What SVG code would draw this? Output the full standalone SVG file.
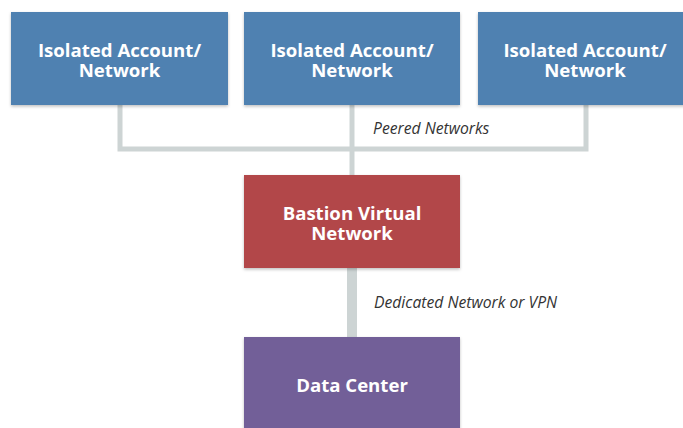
<svg xmlns="http://www.w3.org/2000/svg" width="683" height="428" viewBox="0 0 683 428">
<defs>
<filter id="sh" x="-5%" y="-5%" width="110%" height="115%">
<feDropShadow dx="0" dy="1.5" stdDeviation="1.5" flood-color="#000" flood-opacity="0.25"/>
</filter>
</defs>
<style>
.box{filter:url(#sh)}
.blue{fill:#4f81b1}
.red{fill:#b24748}
.purple{fill:#725e98}
.lbl{font-family:"Open Sans","Liberation Sans",sans-serif;font-weight:bold;font-size:18.6px;fill:#ffffff;text-anchor:middle}
.note{font-family:"Open Sans","Liberation Sans",sans-serif;font-style:italic;font-size:15.7px;fill:#333333}
.ln{stroke:#cdd4d4;fill:none}
</style>
<rect width="683" height="428" fill="#ffffff"/>
<g id="connectors">
<polyline class="ln" stroke-width="5" points="120,105 120,149 586,149 586,105"/>
<line class="ln" stroke-width="5" x1="352" y1="105" x2="352" y2="176"/>
<line class="ln" stroke-width="10" x1="352" y1="268" x2="352" y2="338"/>
<text class="note" x="373" y="134">Peered Networks</text>
<text class="note" x="374" y="308">Dedicated Network or VPN</text>
</g>
<g id="iso1">
<rect class="box blue" x="11" y="12" width="217" height="93"/>
<text class="lbl" x="119.5" y="57">Isolated Account/<tspan x="119.5" dy="20">Network</tspan></text>
</g>
<g id="iso2">
<rect class="box blue" x="244" y="12" width="216" height="93"/>
<text class="lbl" x="352" y="57">Isolated Account/<tspan x="352" dy="20">Network</tspan></text>
</g>
<g id="iso3">
<rect class="box blue" x="478" y="12" width="215" height="93"/>
<text class="lbl" x="585" y="57">Isolated Account/<tspan x="585" dy="20">Network</tspan></text>
</g>
<g id="bastion">
<rect class="box red" x="244" y="175" width="216" height="93"/>
<text class="lbl" x="352" y="220">Bastion Virtual<tspan x="352" dy="20">Network</tspan></text>
</g>
<g id="datacenter">
<rect class="box purple" x="244" y="337" width="216" height="100"/>
<text class="lbl" x="352" y="392">Data Center</text>
</g>
</svg>
